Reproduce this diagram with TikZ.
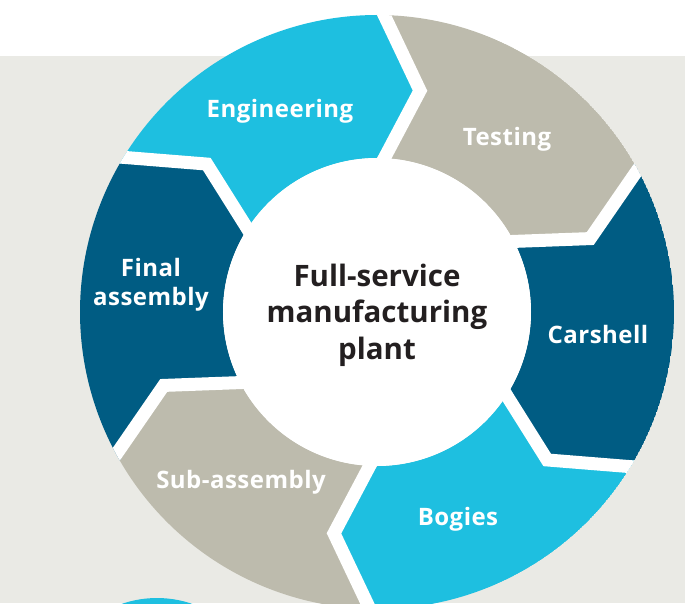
\documentclass[tikz,border=0pt]{standalone}
\usepackage{fontspec}
\setmainfont{Open Sans}
\usetikzlibrary{positioning}

\definecolor{plantcyan}{HTML}{1EBFE0}
\definecolor{plantsand}{HTML}{BDBBAD}
\definecolor{plantblue}{HTML}{005C83}
\definecolor{plantbg}{HTML}{EAEAE5}
\definecolor{planttext}{HTML}{231F20}

\begin{document}
\begin{tikzpicture}[x=1pt, y=1pt,
    seglabel/.style={text=white, inner sep=0pt, align=center,
      font=\bfseries\fontsize{24}{29}\selectfont\addfontfeatures{LetterSpace=2}},
    hublabel/.style={text=planttext, inner sep=0pt, align=center,
      font=\bfseries\fontsize{29.5}{36.5}\selectfont},
    gapline/.style={draw=white, line width=13pt, line join=miter}]
    \useasboundingbox (-377,-291) rectangle (308,312);%

    % Background
    \fill [white] (-377,-291) rectangle (308,312);%
    \fill [plantbg] (-377,-291) rectangle (308,256);%
    % -- next circle, cut off by the page
    \fill [plantcyan] (-220,-394) circle [radius=108];%

    % Ring
    \begin{scope}
      \clip (0,0) circle [radius=297];%
      % -- segments
      \foreach \a/\col in {150/plantcyan, 90/plantsand, 30/plantblue,
        -30/plantcyan, -90/plantsand, -150/plantblue} {%
        \pgfmathsetmacro{\b}{\a-60}%
        \fill [\col] (\a:297) arc [start angle=\a, end angle=\b, radius=297]
        -- ({\b-11}:225.5) -- (\b:154) arc [start angle=\b, end angle=\a,
        radius=154] -- ({\a-11}:225.5) -- cycle;%
      }
      % -- white chevron gaps
      \foreach \a in {150, 90, 30, -30, -90, -150} {%
        \draw [gapline] (\a:312) -- ({\a-11}:225.5) -- (\a:140);%
      }
    \end{scope}

    % Hub
    \node [circle, fill=white, minimum size=308pt, inner sep=0pt] (hub) at (0,0)
    {};%
    \node [hublabel] (hubtext) at ([yshift=-3pt]hub.center)
    {Full-service\\manufacturing\\plant};%

    % Segment labels
    \node [seglabel, anchor=base] (eng) at (-97,194) {Engineering};%
    \node [seglabel, anchor=base] (test) at (130,167) {Testing};%
    \node [seglabel, anchor=base] (car) at (221,-31) {Carshell};%
    \node [seglabel, anchor=base] (bog) at (81,-213) {Bogies};%
    \node [seglabel, anchor=base] (sub) at (-136,-176) {Sub-assembly};%
    \node [seglabel, anchor=base] (fin) at (-226,7) {Final\\assembly};%
  \end{tikzpicture}
\end{document}
